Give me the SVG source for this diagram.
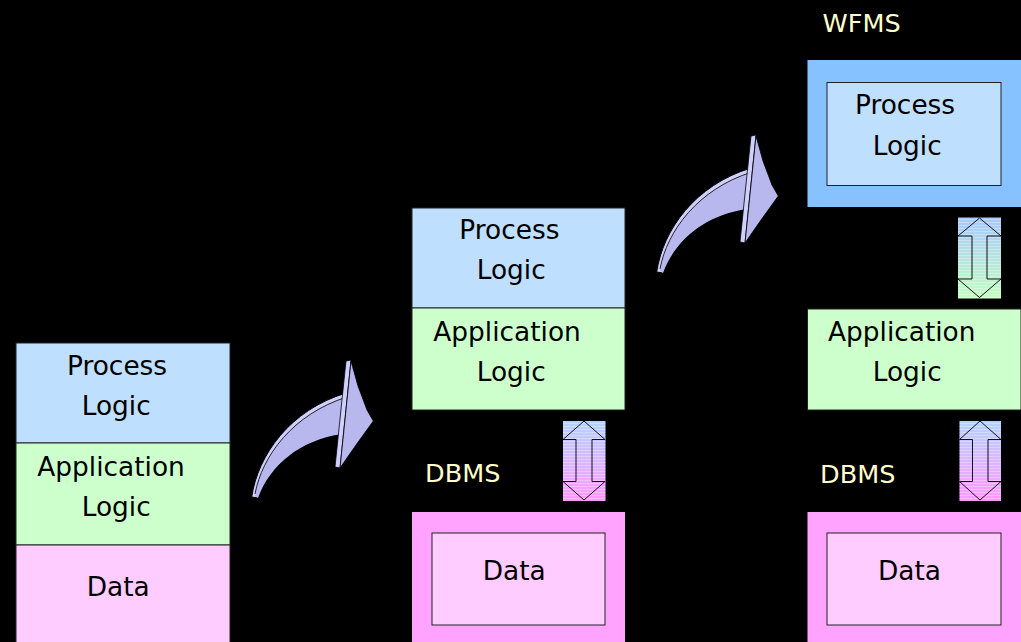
<svg xmlns="http://www.w3.org/2000/svg" width="1021" height="642" viewBox="0 0 1021 642">
<defs>
<style>
text{font-family:"DejaVu Sans","Bitstream Vera Sans",sans-serif;font-size:26.4px;fill:#000}
.lbl{fill:#ffffcc;font-size:25.5px}
.pl{fill:#bfdfff;stroke:#222;stroke-width:1}
.al{fill:#ccffcc;stroke:#222;stroke-width:1}
.dt{fill:#ffccff;stroke:#222;stroke-width:1}
.dbo{fill:#ffa3ff}
.wfo{fill:#86c2ff}
.dar{fill:none;stroke:#111;stroke-width:1}
.stripe{fill:url(#stripes)}
</style>
<linearGradient id="gBP" x1="0" y1="0" x2="0" y2="1">
<stop offset="0" stop-color="#b4d4ff"/><stop offset="1" stop-color="#ff99ff"/>
</linearGradient>
<linearGradient id="gBG" x1="0" y1="0" x2="0" y2="1">
<stop offset="0" stop-color="#a8c8ff"/><stop offset="1" stop-color="#c4ffc0"/>
</linearGradient>
<pattern id="stripes" width="4" height="3" patternUnits="userSpaceOnUse">
<rect x="0" y="0" width="4" height="1" fill="#ffffff" fill-opacity="0.3"/>
</pattern>
<g id="curve">
<path d="M251.7,497 C258,455 290,410 346,393 L342,434 C300,440 270,465 258,498 Z" fill="#d0d0ff" stroke="#000" stroke-width="1"/>
<path d="M255,496 C262,456 293,414 347,397 L342,434 C300,440 270,465 258,498 Z" fill="#b8b8ee"/>
<path d="M255,494 C262,456 293,414 347,397" fill="none" stroke="#222" stroke-width="1"/>
<path d="M346,361 L351,360 L340,468 L335,467 Z" fill="#d0d0ff" stroke="#000" stroke-width="0.8"/>
<path d="M351,361 L358,386 L367,410 L373.3,421 L356,445 L340,468 Z" fill="#b8b8ee" stroke="#000" stroke-width="0.8"/>
</g>
</defs>
<rect x="0" y="0" width="1021" height="642" fill="#000"/>

<g id="stack1">
<rect class="pl" x="16" y="343" width="214" height="100"/>
<rect class="al" x="16" y="443" width="214" height="102"/>
<rect class="dt" x="16" y="545" width="214" height="105"/>
<text x="67" y="375">Process</text>
<text x="81.7" y="415">Logic</text>
<text x="37.3" y="476">Application</text>
<text x="81.7" y="516">Logic</text>
<text x="86.7" y="596">Data</text>
</g>

<g id="stack2">
<rect class="pl" x="412" y="208" width="213" height="100"/>
<rect class="al" x="412" y="308" width="213" height="102"/>
<text x="459.3" y="238.5">Process</text>
<text x="476.7" y="279">Logic</text>
<text x="433.3" y="341">Application</text>
<text x="476.7" y="381">Logic</text>
</g>

<g id="dbms2">
<rect class="dbo" x="412" y="512" width="213" height="135"/>
<rect class="dt" x="432" y="533" width="173" height="92"/>
<text x="482.7" y="579.5">Data</text>
<text class="lbl" x="425" y="482">DBMS</text>
</g>

<g id="wfms">
<rect class="wfo" x="807.5" y="60" width="213.5" height="147"/>
<rect class="pl" x="827" y="82.5" width="174" height="103"/>
<text x="855" y="113.5">Process</text>
<text x="872.7" y="155">Logic</text>
<text class="lbl" x="822.5" y="31.5">WFMS</text>
</g>

<g id="app3">
<rect class="al" x="807.5" y="309" width="213.5" height="101"/>
<text x="828" y="341">Application</text>
<text x="872.7" y="381">Logic</text>
</g>

<g id="dbms3">
<rect class="dbo" x="807.5" y="512" width="213.5" height="135"/>
<rect class="dt" x="827" y="533" width="174" height="92"/>
<text x="878" y="579.5">Data</text>
<text class="lbl" x="820" y="483">DBMS</text>
</g>

<g id="connectors">
<use href="#curve"/>
<use href="#curve" transform="translate(405,-225)"/>

<g id="dbl1">
<rect x="563" y="421" width="42.5" height="80" fill="url(#gBP)"/>
<rect class="stripe" x="563" y="421" width="42.5" height="80"/>
<path class="dar" d="M584,421 L605,439.5 L592,439.5 L592,481.5 L605,481.5 L584,500 L563,481.5 L576,481.5 L576,439.5 L563,439.5 Z"/>
</g>
<g id="dbl2">
<rect x="958" y="217.5" width="43" height="81" fill="url(#gBG)"/>
<rect class="stripe" x="958" y="217.5" width="43" height="81"/>
<path class="dar" d="M979.5,218 L1001,236 L987,236 L987,279 L1001,279 L979.5,297.5 L958,279 L972,279 L972,236 L958,236 Z"/>
</g>
<g id="dbl3">
<rect x="959.5" y="421" width="41.5" height="80" fill="url(#gBP)"/>
<rect class="stripe" x="959.5" y="421" width="41.5" height="80"/>
<path class="dar" d="M980,421 L1001,439.5 L988,439.5 L988,481.5 L1001,481.5 L980,500 L959.5,481.5 L972.5,481.5 L972.5,439.5 L959.5,439.5 Z"/>
</g>
</g>
</svg>
